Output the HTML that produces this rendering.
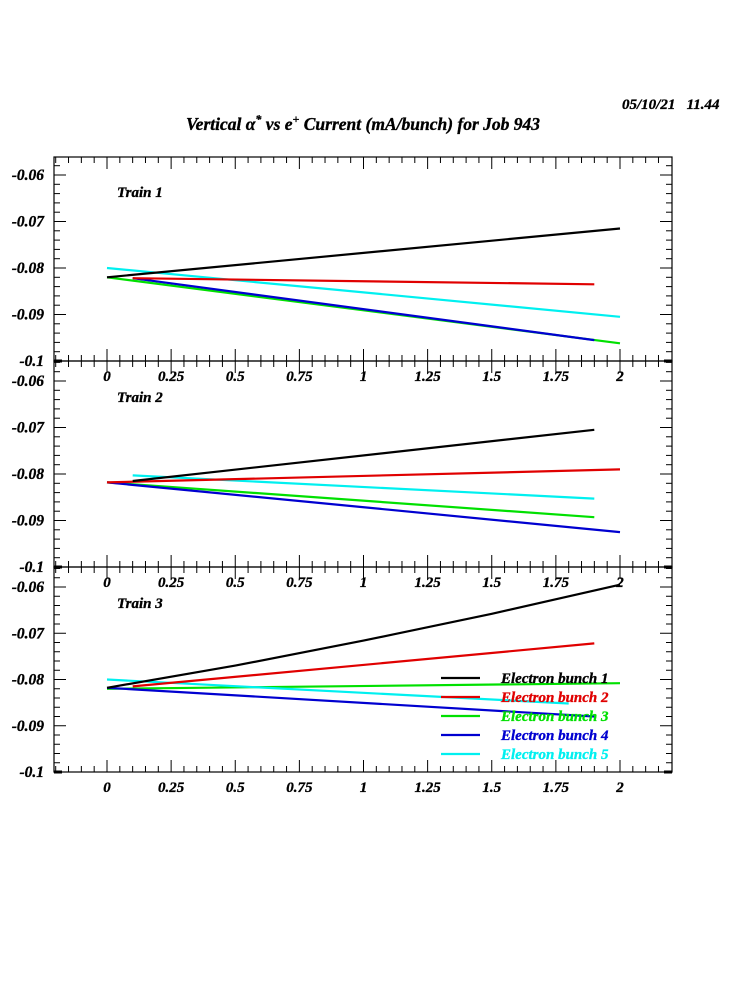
<!DOCTYPE html>
<html><head><meta charset="utf-8"><style>
html,body{margin:0;padding:0;background:#fff;}
svg text{font-family:"Liberation Serif",serif;font-weight:bold;font-style:italic;stroke:#000;stroke-width:0.35;}
</style></head><body>
<svg id="s" width="750" height="1000" xmlns="http://www.w3.org/2000/svg">
<text x="622" y="109" font-size="15">05/10/21&#160;&#160;&#160;11.44</text>
<text x="363" y="130" font-size="17.5" text-anchor="middle">Vertical α<tspan dy="-7" font-size="12">*</tspan><tspan dy="7"> vs e</tspan><tspan dy="-7" font-size="12">+</tspan><tspan dy="7"> Current (mA/bunch) for Job 943</tspan></text>
</svg>
<script>
const s=document.getElementById('s');const NS='http://www.w3.org/2000/svg';
function el(t,a,txt){const e=document.createElementNS(NS,t);for(const k in a)e.setAttribute(k,a[k]);if(txt!==undefined)e.textContent=txt;s.appendChild(e);return e;}
const L=54,R=672,X0=107,XS=256.5;
const panels=[[157,361,175,'Train 1'],[361,567,381,'Train 2'],[567,772,587,'Train 3']];
const xp=v=>X0+v*XS;
panels.forEach((p,i)=>{
 const [top,bot,y06,name]=p;const ys=(bot-y06)/0.04;
 const yp=v=>y06+(-0.06-v)*ys*1;
 el('rect',{x:L,y:top,width:R-L,height:bot-top,fill:'none',stroke:'#000','stroke-width':1.2});
 for(let k=-20;k<=43;k++){const v=k*0.05;const x=xp(v);if(x<L+1||x>R-1)continue;const maj=k%5==0;const len=maj?12:6;
  el('line',{x1:x,y1:bot,x2:x,y2:bot-len,stroke:'#000'});el('line',{x1:x,y1:top,x2:x,y2:top+len,stroke:'#000'});}
 ['0','0.25','0.5','0.75','1','1.25','1.5','1.75','2'].forEach((t,k)=>el('text',{x:xp(k*0.25),y:bot+20,'font-size':15,'text-anchor':'middle'},t));
 for(let k=0;k<=22;k++){const v=-0.056-k*0.002;const y=yp(v);if(y<top+1||y>bot-1)continue;const maj=(k%5==2);const len=maj?12:6;
  el('line',{x1:L,y1:y,x2:L+len,y2:y,stroke:'#000'});el('line',{x1:R,y1:y,x2:R-len,y2:y,stroke:'#000'});}
 ['-0.06','-0.07','-0.08','-0.09','-0.1'].forEach((t,k)=>el('text',{x:44,y:yp(-0.06-k*0.01)+5,'font-size':15.5,'text-anchor':'end'},t));
 el('line',{x1:L,y1:bot,x2:L+8,y2:bot,stroke:'#000','stroke-width':3});
 el('line',{x1:R-8,y1:bot,x2:R,y2:bot,stroke:'#000','stroke-width':3});
 el('text',{x:117,y:top+(i==0?40:41),'font-size':15},name);
 p.push(yp);
});
const C=['#000','#e00000','#00e000','#0000d0','#00f0f0'];
const data=[
 [[[0,-0.0820],[2,-0.0715]],[[0.1,-0.0822],[1.9,-0.0835]],[[0,-0.0820],[2,-0.0962]],[[0.1,-0.0822],[1.9,-0.0955]],[[0,-0.0800],[2,-0.0905]]],
 [[[0.1,-0.0815],[1.9,-0.0705]],[[0,-0.0818],[2,-0.0790]],[[0,-0.0818],[1.9,-0.0893]],[[0,-0.0818],[2,-0.0925]],[[0.1,-0.0803],[1.9,-0.0853]]],
 [[[0,-0.0818],[0.5,-0.0770],[1,-0.0716],[1.5,-0.0658],[2,-0.0595]],[[0.1,-0.0815],[1.9,-0.0722]],[[0,-0.0820],[2,-0.0808]],[[0,-0.0818],[1.9,-0.0880]],[[0,-0.0800],[1.8,-0.0852]]]
];
[0,1,2].forEach(i=>{const yp=panels[i][4];[2,3,4,1,0].forEach(j=>{
 const pts=data[i][j].map(q=>xp(q[0]).toFixed(1)+','+yp(q[1]).toFixed(1)).join(' ');
 el('polyline',{points:pts,fill:'none',stroke:C[j],'stroke-width':2.2});});});
['Electron bunch 1','Electron bunch 2','Electron bunch 3','Electron bunch 4','Electron bunch 5'].forEach((t,k)=>{
 const y=678+k*19;el('line',{x1:441,y1:y,x2:480,y2:y,stroke:C[k],'stroke-width':2.2});
 el('text',{x:501,y:y+5,'font-size':15,style:'fill:'+C[k]+';stroke:'+C[k]},t);});
</script>
</body></html>
